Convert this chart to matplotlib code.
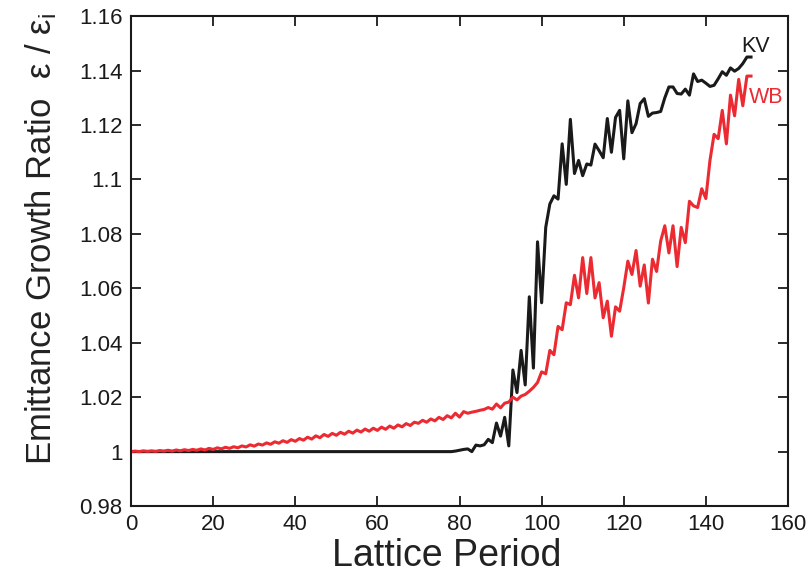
import matplotlib
matplotlib.use("Agg")
import matplotlib.pyplot as plt
from matplotlib.ticker import FuncFormatter

# emittance growth ratio per lattice period
period = list(range(0, 152))

kv = [
    1.0000, 1.0000, 1.0000, 1.0000, 1.0000, 1.0000, 1.0000, 1.0000, 1.0000, 1.0000,
    1.0000, 1.0000, 1.0000, 1.0000, 1.0000, 1.0000, 1.0000, 1.0000, 1.0000, 1.0000,
    1.0000, 1.0000, 1.0000, 1.0000, 1.0000, 1.0000, 1.0000, 1.0000, 1.0000, 1.0000,
    1.0000, 1.0000, 1.0000, 1.0000, 1.0000, 1.0000, 1.0000, 1.0000, 1.0000, 1.0000,
    1.0000, 1.0000, 1.0000, 1.0000, 1.0000, 1.0000, 1.0000, 1.0000, 1.0000, 1.0000,
    1.0000, 1.0000, 1.0000, 1.0000, 1.0000, 1.0000, 1.0000, 1.0000, 1.0000, 1.0000,
    1.0000, 1.0000, 1.0000, 1.0000, 1.0000, 1.0000, 1.0000, 1.0000, 1.0000, 1.0000,
    1.0000, 1.0000, 1.0000, 1.0000, 1.0000, 1.0000, 1.0000, 1.0000, 1.0000, 1.0002,
    1.0005, 1.0008, 1.0010, 1.0000, 1.0024, 1.0021, 1.0025, 1.0045, 1.0033, 1.0105,
    1.0057, 1.0126, 1.0021, 1.0300, 1.0217, 1.0372, 1.0245, 1.0569, 1.0307, 1.0771,
    1.0547, 1.0824, 1.0910, 1.0940, 1.0928, 1.1131, 1.0982, 1.1221, 1.1022, 1.1070,
    1.1014, 1.1057, 1.1053, 1.1130, 1.1106, 1.1080, 1.1224, 1.1100, 1.1228, 1.1254,
    1.1076, 1.1289, 1.1172, 1.1205, 1.1279, 1.1297, 1.1232, 1.1244, 1.1246, 1.1250,
    1.1300, 1.1340, 1.1340, 1.1316, 1.1314, 1.1332, 1.1310, 1.1388, 1.1360, 1.1365,
    1.1354, 1.1342, 1.1346, 1.1370, 1.1396, 1.1383, 1.1410, 1.1398, 1.1408, 1.1426,
    1.1450, 1.1450,
]

wb = [
    1.0000, 1.0002, 1.0000, 1.0003, 1.0001, 1.0003, 1.0001, 1.0004, 1.0002, 1.0005,
    1.0002, 1.0006, 1.0003, 1.0007, 1.0004, 1.0008, 1.0005, 1.0010, 1.0006, 1.0012,
    1.0008, 1.0014, 1.0010, 1.0016, 1.0012, 1.0018, 1.0014, 1.0021, 1.0017, 1.0025,
    1.0020, 1.0028, 1.0024, 1.0032, 1.0027, 1.0036, 1.0031, 1.0040, 1.0034, 1.0044,
    1.0038, 1.0048, 1.0042, 1.0053, 1.0046, 1.0058, 1.0051, 1.0063, 1.0056, 1.0067,
    1.0060, 1.0071, 1.0064, 1.0075, 1.0068, 1.0079, 1.0072, 1.0083, 1.0075, 1.0086,
    1.0078, 1.0090, 1.0082, 1.0094, 1.0086, 1.0098, 1.0091, 1.0103, 1.0096, 1.0108,
    1.0104, 1.0115, 1.0108, 1.0120, 1.0113, 1.0126, 1.0118, 1.0132, 1.0124, 1.0141,
    1.0127, 1.0147, 1.0141, 1.0145, 1.0148, 1.0152, 1.0155, 1.0162, 1.0156, 1.0175,
    1.0161, 1.0178, 1.0182, 1.0200, 1.0190, 1.0204, 1.0210, 1.0222, 1.0236, 1.0254,
    1.0293, 1.0286, 1.0372, 1.0356, 1.0460, 1.0448, 1.0547, 1.0540, 1.0648, 1.0565,
    1.0713, 1.0581, 1.0713, 1.0565, 1.0621, 1.0492, 1.0553, 1.0424, 1.0532, 1.0516,
    1.0602, 1.0700, 1.0651, 1.0739, 1.0608, 1.0686, 1.0546, 1.0707, 1.0662, 1.0774,
    1.0830, 1.0730, 1.0830, 1.0680, 1.0824, 1.0768, 1.0920, 1.0903, 1.0897, 1.0966,
    1.0930, 1.1070, 1.1166, 1.1150, 1.1254, 1.1131, 1.1310, 1.1234, 1.1368, 1.1271,
    1.1380, 1.1380,
]

plt.rcParams["font.family"] = ["Liberation Sans", "DejaVu Sans"]
plt.rcParams["mathtext.default"] = "regular"

fig = plt.figure(figsize=(8.09, 5.79), dpi=100)
ax = fig.add_axes([0.162, 0.126, 0.812, 0.846])

ax.plot(period, kv, color="#1a1a1a", lw=2.2)
ax.plot(period, wb, color="#ec2a32", lw=2.2)

ax.text(148.5, 1.1490, "KV", color="#1a1a1a", fontsize=15.5, va="center", ha="left")
ax.text(150.4, 1.1300, "WB", color="#ec2a32", fontsize=15.5, va="center", ha="left")

ax.set_xlim(0, 160)
ax.set_ylim(0.98, 1.16)
ax.set_xticks(range(0, 161, 20))
ax.set_yticks([0.98, 1.0, 1.02, 1.04, 1.06, 1.08, 1.1, 1.12, 1.14, 1.16])
ax.yaxis.set_major_formatter(FuncFormatter(lambda v, p: "%g" % round(v, 2)))

ax.tick_params(direction="in", length=7, width=1.3, labelsize=16,
               top=True, right=True, pad=6, colors="#1a1a1a")
for s in ax.spines.values():
    s.set_linewidth(1.5)
    s.set_color("#1a1a1a")

ax.set_xlabel("Lattice Period", fontsize=27, color="#222222")
ax.xaxis.set_label_coords(0.48, -0.065)
ax.set_ylabel("Emittance Growth Ratio  ε / ε$_{i}$", fontsize=25,
              color="#222222")
ax.yaxis.set_label_coords(-0.11, 0.545)

fig.savefig("out.png", dpi=100)
